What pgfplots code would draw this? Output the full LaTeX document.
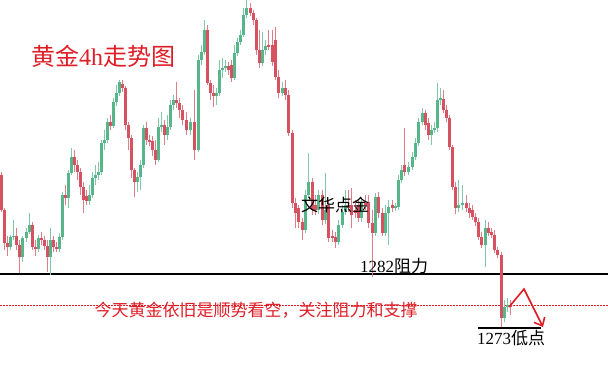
\documentclass[border=0pt]{standalone}
\usepackage{fontspec}
\setmainfont{Liberation Serif}
\newfontfamily\cjk{Noto Sans CJK SC}
\usepackage{pgfplots}
\usepackage{pgfplotstable}
\pgfplotsset{compat=1.18}
\usetikzlibrary{arrows.meta}
\definecolor{upc}{RGB}{86,182,138}
\definecolor{dnc}{RGB}{214,82,96}
\definecolor{txtred}{RGB}{222,30,38}

% pixel-row values: x, wick top, body top, body bottom, wick bottom
\pgfplotstableread{
x hi top bot lo
10 235 237 247 250
13 220 236 237 240
22 236 238 257 262
26 228 232 238 242
29 213 225 232 234
38 235 238 249 252
50 228 240 257 275
59 233 237 249 252
62 192 195 237 240
68 170 173 198 208
71 148 157 173 175
89 185 195 201 205
92 172 178 195 198
95 165 175 178 185
98 162 172 175 180
101 140 143 172 175
104 130 140 143 150
107 118 122 140 143
113 98 102 126 128
116 85 93 102 106
119 80 82 93 96
137 172 177 182 192
140 160 165 177 190
143 125 128 165 168
158 118 127 160 162
161 112 125 127 132
167 115 127 135 140
170 100 105 127 130
173 95 100 105 110
190 118 122 130 135
198 55 60 150 152
201 45 52 60 65
204 20 30 52 55
216 88 93 96 105
219 60 70 93 96
222 58 68 70 78
225 60 66 68 72
234 45 53 78 80
237 38 42 53 56
240 30 35 42 45
243 8 15 35 37
246 0 8 15 18
262 32 50 63 66
265 40 46 50 55
282 82 88 93 96
305 190 195 230 233
308 153 182 195 198
318 190 195 210 214
325 173 210 220 224
338 220 225 242 245
342 205 212 225 228
345 190 205 212 215
361 198 203 218 222
375 193 197 233 236
385 205 213 233 236
388 200 207 213 245
395 203 206 208 211
398 175 180 207 210
401 165 170 180 183
408 162 167 172 175
412 152 157 167 170
415 138 143 157 160
418 118 122 143 146
422 108 113 122 125
431 125 130 135 145
434 122 128 130 133
437 83 100 128 132
440 88 98 100 105
458 180 205 208 212
462 185 203 205 210
485 220 228 245 267
504 300 307 318 322
507 298 305 307 312
}\upT

\pgfplotstableread{
x hi top bot lo
1 172 175 210 212
4 208 210 243 250
7 236 243 247 256
16 228 236 245 250
19 240 245 257 273
32 222 225 247 250
35 240 247 249 256
41 232 238 240 245
44 236 240 246 250
47 240 246 257 272
53 236 240 247 252
56 242 247 249 252
65 185 195 198 205
74 150 157 165 172
77 160 165 172 180
80 168 172 187 195
83 182 187 200 213
86 190 196 201 205
110 115 122 126 130
122 80 84 88 92
125 86 88 125 130
128 122 125 138 150
131 135 138 170 178
134 168 170 182 197
146 122 128 140 145
149 135 140 142 146
152 136 141 150 156
155 140 150 160 165
164 120 125 135 145
176 82 100 103 108
179 98 103 110 118
182 105 110 120 125
186 112 120 130 135
194 90 122 150 160
207 25 30 83 85
210 80 83 93 100
213 85 93 96 107
228 62 66 70 75
231 60 65 78 82
250 3 8 13 16
253 10 13 20 25
256 18 20 50 55
259 30 50 63 68
268 30 45 47 50
272 30 45 62 66
275 27 40 77 80
278 70 77 93 98
285 80 88 95 100
288 90 95 133 136
292 130 133 203 208
295 198 203 213 228
298 205 208 222 228
302 218 222 230 240
312 178 182 210 215
315 195 205 210 215
322 190 195 220 225
328 200 205 238 242
332 230 236 238 242
335 232 237 242 248
348 190 205 208 212
351 188 205 215 228
355 200 210 213 218
358 200 205 218 222
365 195 203 205 210
368 195 202 223 228
372 210 223 233 277
378 192 197 213 218
382 208 213 233 236
392 200 205 208 212
404 128 165 172 176
425 110 113 125 130
428 118 123 135 140
443 90 99 110 113
446 105 110 118 122
449 115 118 147 150
452 145 147 187 190
455 182 187 208 214
466 195 203 208 212
469 203 208 213 218
472 205 210 217 220
475 213 217 222 226
478 218 222 237 240
481 232 237 245 248
488 222 228 233 236
491 228 232 235 238
494 230 235 250 253
497 247 250 255 258
501 252 255 318 327
510 300 305 307 315
}\dnT

\begin{document}
\begin{tikzpicture}
\useasboundingbox (0,0) rectangle (608pt,374pt);
\begin{axis}[
  at={(0,0)}, anchor=south west,
  scale only axis, width=608pt, height=374pt,
  xmin=0, xmax=608, ymin=0, ymax=374,
  y dir=reverse, hide axis, clip=false,
]
% reference lines
\addplot[black, line width=1.8pt, forget plot] coordinates {(0,274) (608,274)};
\addplot[txtred, line width=0.6pt, dash pattern=on 1.5pt off 1.5pt, forget plot] coordinates {(0,305) (608,305)};

% wicks
\addplot[draw=none, mark=none, forget plot,
  error bars/.cd, y dir=plus, y explicit, error mark=none,
  error bar style={draw=upc!75, line width=0.8pt}]
  table[x=x, y=hi, y error plus expr=\thisrow{lo}-\thisrow{hi}] {\upT};
\addplot[draw=none, mark=none, forget plot,
  error bars/.cd, y dir=plus, y explicit, error mark=none,
  error bar style={draw=dnc!75, line width=0.8pt}]
  table[x=x, y=hi, y error plus expr=\thisrow{lo}-\thisrow{hi}] {\dnT};
% bodies
\addplot[draw=none, mark=none, forget plot,
  error bars/.cd, y dir=plus, y explicit, error mark=none,
  error bar style={draw=upc, line width=3pt, line cap=butt}]
  table[x=x, y=top, y error plus expr=\thisrow{bot}-\thisrow{top}] {\upT};
\addplot[draw=none, mark=none, forget plot,
  error bars/.cd, y dir=plus, y explicit, error mark=none,
  error bar style={draw=dnc, line width=3pt, line cap=butt}]
  table[x=x, y=top, y error plus expr=\thisrow{bot}-\thisrow{top}] {\dnT};

% low marker and arrow
\addplot[black, line width=1.5pt, forget plot] coordinates {(478,328) (541,328)};
\addplot[txtred, line width=1.6pt, forget plot, -{Straight Barb[length=7pt,width=12pt]}]
  coordinates {(509,307) (524,289) (543,327)};

% label drawn on top of the candles
\addplot[draw=none, mark=none, forget plot,
  nodes near coords={\cjk 文华点金},
  nodes near coords style={anchor=center, inner sep=0pt, text=black, font=\fontsize{17}{17}\selectfont}]
  coordinates {(335,205)};

% texts
\node[text=txtred, inner sep=0pt, font=\fontsize{24}{24}\selectfont] at (axis cs:103,56) {{\cjk 黄金}4h{\cjk 走势图}};
\node[text=black, inner sep=0pt, font=\fontsize{17}{17}\selectfont] at (axis cs:394,266) {1282{\cjk 阻力}};
\node[text=txtred, inner sep=0pt, font=\fontsize{17}{17}\selectfont] at (axis cs:256,310) {\cjk 今天黄金依旧是顺势看空，关注阻力和支撑};
\node[text=black, inner sep=0pt, font=\fontsize{17}{17}\selectfont] at (axis cs:511,338) {1273{\cjk 低点}};
\end{axis}
\end{tikzpicture}
\end{document}
